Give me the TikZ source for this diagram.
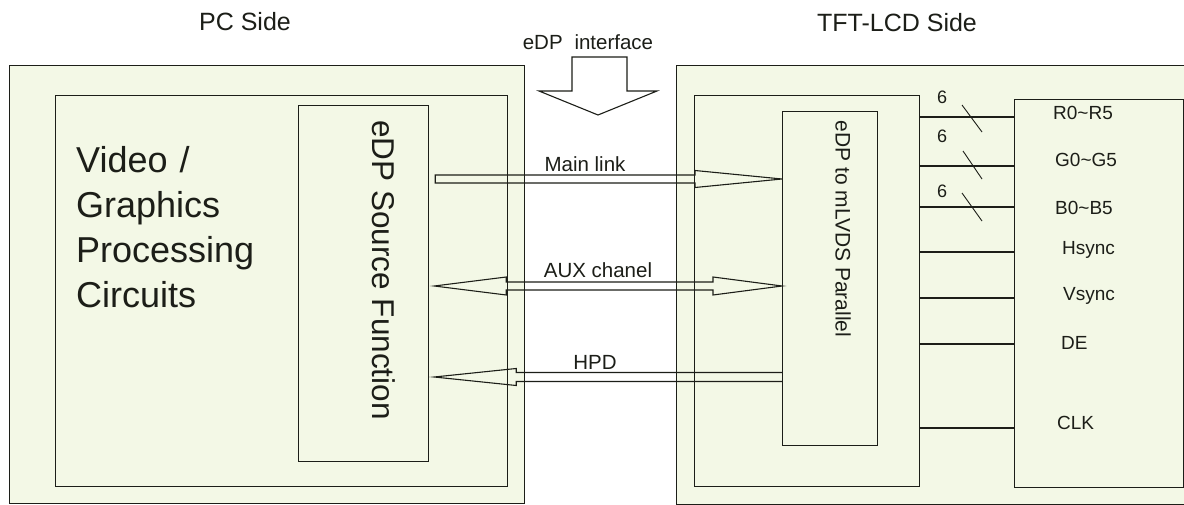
\documentclass[tikz,border=0pt]{standalone}
\usepackage{fontspec}
\setmainfont{Liberation Sans}
\usetikzlibrary{calc}
\definecolor{boxfill}{RGB}{243,248,230}
\definecolor{ink}{RGB}{28,30,24}
\newcommand{\fs}[1]{\fontsize{#1}{#1}\selectfont}
\begin{document}
\begin{tikzpicture}[x=1pt,y=-1pt,
  box/.style={draw=ink, fill=boxfill, line width=1.2pt, inner sep=0pt, anchor=north west},
  lbl/.style={inner sep=0pt, text=ink},
  conn/.style={draw=ink, line width=1.1pt, line join=miter},
  sigline/.style={draw=ink, line width=1.1pt},
  busmark/.style={draw=ink, line width=0.9pt}]
\useasboundingbox (0,0) rectangle (1184,505);
\clip (0,0) rectangle (1184,505);
\fill[white] (0,0) rectangle (1184,505);

% titles
\node[lbl, font=\fs{25}] (pcside) at (245,22) {PC Side};
\node[lbl, font=\fs{25}] (lcdside) at (897,23) {TFT-LCD Side};

% PC side boxes
\node[box, minimum width=515pt, minimum height=438pt] (pcouter) at (9,65) {};
\node[box, minimum width=452pt, minimum height=391pt] (pcinner) at (55,95) {};
\node[box, minimum width=130pt, minimum height=356pt] (src) at (298,105) {};
\node[lbl, font=\fs{31.5}, rotate=-90] (srclbl) at (384,270) {eDP Source Function};
\node[lbl, font=\fs{36}, align=left, anchor=north west,
      text width=240pt, execute at begin node=\setlength{\baselineskip}{45pt}] (vgpc) at (76,146)
  {Video /\\Graphics\\Processing\\Circuits};

% LCD side boxes
\node[box, minimum width=530pt, minimum height=439pt] (lcdouter) at (676,65) {};
\node[box, minimum width=225pt, minimum height=391pt] (lcdinner) at (694,95) {};
\node[box, minimum width=95pt, minimum height=334pt] (conv) at (782,111) {};
\node[lbl, font=\fs{21}, rotate=-90] (convlbl) at (843,229) {eDP to mLVDS Parallel};
\node[box, minimum width=169pt, minimum height=388pt] (sig) at (1014,99) {};

% eDP interface block arrow
\draw[conn, fill=white] (572,57) -- (627,57) -- (627,91) -- (657,91) -- (598,115)
  -- (539,91) -- (572,91) -- cycle;
\node[lbl, font=\fs{20.5}, anchor=base] (ifc) at (588,50) {eDP\hspace{0.3em} interface};

% Main link
\coordinate (mlA) at ([xshift=6pt]src.east |- 0,179);
\coordinate (mlB) at (conv.west |- 0,179);
\draw[conn] ($(mlA)+(0,-4)$) -- ($(mlB)+(-87,-4)$) -- ($(mlB)+(-87,-8.5)$) -- (mlB)
  -- ($(mlB)+(-87,8.5)$) -- ($(mlB)+(-87,4)$) -- ($(mlA)+(0,4)$) -- cycle;
\node[lbl, font=\fs{20.5}, anchor=base] (mllbl) at (585,172) {Main link};

% AUX channel
\coordinate (auxA) at ([xshift=5pt]src.east |- 0,286);
\coordinate (auxB) at (conv.west |- 0,286);
\draw[conn] (auxA) -- ($(auxA)+(72,-9)$) -- ($(auxA)+(72,-4)$) -- ($(auxB)+(-69,-4)$)
  -- ($(auxB)+(-69,-9)$) -- (auxB) -- ($(auxB)+(-69,9)$) -- ($(auxB)+(-69,4)$)
  -- ($(auxA)+(72,4)$) -- ($(auxA)+(72,9)$) -- cycle;
\node[lbl, font=\fs{20.5}, anchor=base] (auxlbl) at (598,277) {AUX chanel};

% HPD
\coordinate (hpdA) at ([xshift=5pt]src.east |- 0,377);
\coordinate (hpdB) at (conv.west |- 0,377);
\draw[conn] ($(hpdB)+(0,-4.5)$) -- ($(hpdA)+(82,-4.5)$) -- ($(hpdA)+(82,-8.5)$) -- (hpdA)
  -- ($(hpdA)+(82,8.5)$) -- ($(hpdA)+(82,4.5)$) -- ($(hpdB)+(0,4.5)$);
\node[lbl, font=\fs{20.5}, anchor=base] (hpdlbl) at (595,369) {HPD};

% signal lines
\foreach \yy in {117,166,207,252,298,344,428}
  \draw[sigline] (lcdinner.east |- 0,\yy) -- (sig.west |- 0,\yy);
% bus marks
\draw[busmark] (962,105) -- (982,132);
\draw[busmark] (963,151) -- (982,179);
\draw[busmark] (962,193) -- (982,221);
\node[lbl, font=\fs{18}, anchor=base] (n1) at (942,104) {6};
\node[lbl, font=\fs{18}, anchor=base] (n2) at (942,143) {6};
\node[lbl, font=\fs{18}, anchor=base] (n3) at (942,198) {6};

% signal labels
\node[lbl, font=\fs{19}, anchor=base west] (sR) at (1053,120) {R0\textasciitilde R5};
\node[lbl, font=\fs{19}, anchor=base west] (sG) at (1055,167) {G0\textasciitilde G5};
\node[lbl, font=\fs{19}, anchor=base west] (sB) at (1055,215) {B0\textasciitilde B5};
\node[lbl, font=\fs{19}, anchor=base west] (sH) at (1062,255) {Hsync};
\node[lbl, font=\fs{19}, anchor=base west] (sV) at (1063,301) {Vsync};
\node[lbl, font=\fs{19}, anchor=base west] (sD) at (1061,349) {DE};
\node[lbl, font=\fs{19}, anchor=base west] (sC) at (1057,429) {CLK};
\end{tikzpicture}
\end{document}
